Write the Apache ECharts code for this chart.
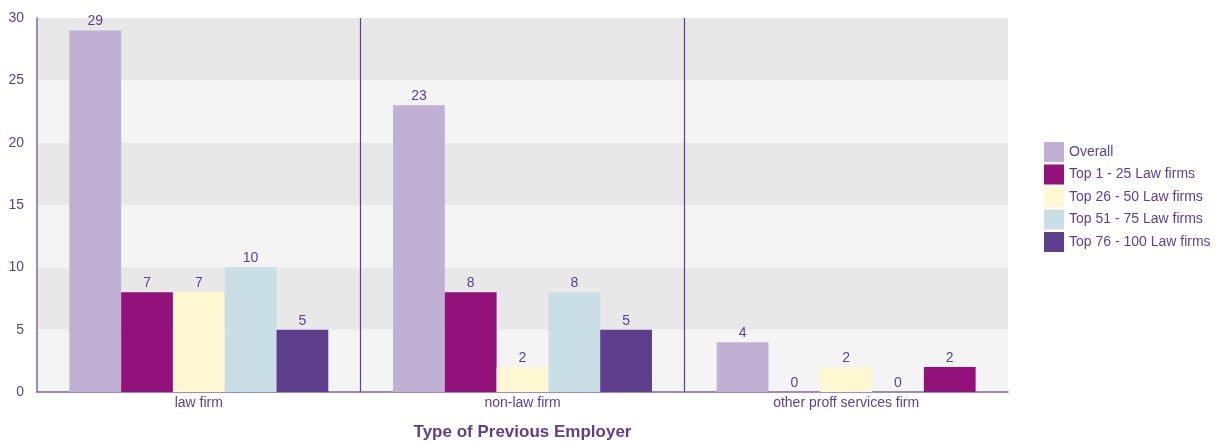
<!DOCTYPE html>
<html><head><meta charset="utf-8">
<script src="https://cdn.jsdelivr.net/npm/echarts@6/dist/echarts.min.js"></script>
<style>html,body{margin:0;padding:0;background:#fff}#c{width:1220px;height:442px}</style>
</head><body><div id="c"></div>
<script>
var categories = ['law firm', 'non-law firm', 'other proff services firm'];
var seriesNames = ['Overall', 'Top 1 - 25 Law firms', 'Top 26 - 50 Law firms', 'Top 51 - 75 Law firms', 'Top 76 - 100 Law firms'];
// bar heights as drawn
var overall = [29, 23, 4];
var top1to25 = [8, 8, 0];
var top26to50 = [8, 2, 2];
var top51to75 = [10, 8, 0];
var top76to100 = [5, 5, 2];
// value labels as printed
var overallLabels = ['29', '23', '4'];
var top1to25Labels = ['7', '8', '0'];
var top26to50Labels = ['7', '2', '2'];
var top51to75Labels = ['10', '8', '0'];
var top76to100Labels = ['5', '5', '2'];
var yTicks = [0, 5, 10, 15, 20, 25, 30];

var colors = ['#c0b0d4', '#93117b', '#fff8d2', '#cadee6', '#5e3f8e'];
var txt = '#5e3f8f';
var values = [overall, top1to25, top26to50, top51to75, top76to100];
var labels = [overallLabels, top1to25Labels, top26to50Labels, top51to75Labels, top76to100Labels];

var series = seriesNames.map(function (name, s) {
  return {
    name: name, type: 'bar', barGap: 0, barCategoryGap: '20%',
    itemStyle: { color: colors[s] },
    data: values[s].map(function (v, i) {
      var d = { value: v };
      if (s === 4 && i === 2) d.itemStyle = { color: colors[1] };
      return d;
    }),
    label: {
      show: true, position: 'top', distance: 2, color: txt, fontSize: 14,
      fontFamily: 'Liberation Sans',
      formatter: function (p) { return labels[s][p.dataIndex]; }
    }
  };
});

var chart = echarts.init(document.getElementById('c'), null, { renderer: 'canvas' });
chart.setOption({
  animation: false,
  textStyle: { fontFamily: 'Liberation Sans' },
  grid: { left: 37, right: 212, top: 18, bottom: 50, containLabel: false, outerBoundsMode: 'none' },
  legend: {
    orient: 'vertical', left: 1044, top: 142, padding: 0, itemWidth: 20, itemHeight: 20, itemGap: 2.5,
    icon: 'rect', textStyle: { color: txt, fontSize: 14 },
    data: seriesNames
  },
  xAxis: {
    type: 'category', data: categories,
    name: 'Type of Previous Employer', nameLocation: 'middle', nameGap: 32,
    nameTextStyle: { color: txt, fontSize: 17, fontWeight: 'bold' },
    axisLine: { lineStyle: { color: '#8066ad', width: 1.5 } },
    axisTick: { show: false },
    axisLabel: { color: txt, fontSize: 14, margin: 4 },
    splitLine: { show: true, showMinLine: false, showMaxLine: false, lineStyle: { color: '#5e3f8f', width: 1.2 } }
  },
  yAxis: {
    type: 'value', min: yTicks[0], max: yTicks[yTicks.length - 1], interval: 5,
    axisLine: { show: true, lineStyle: { color: '#8066ad', width: 1.5 } },
    axisTick: { show: false },
    axisLabel: { color: txt, fontSize: 14, margin: 13 },
    splitLine: { show: false },
    splitArea: { show: true, areaStyle: { color: ['#f4f4f4', '#e8e8e8'] } }
  },
  series: series
});
</script></body></html>
